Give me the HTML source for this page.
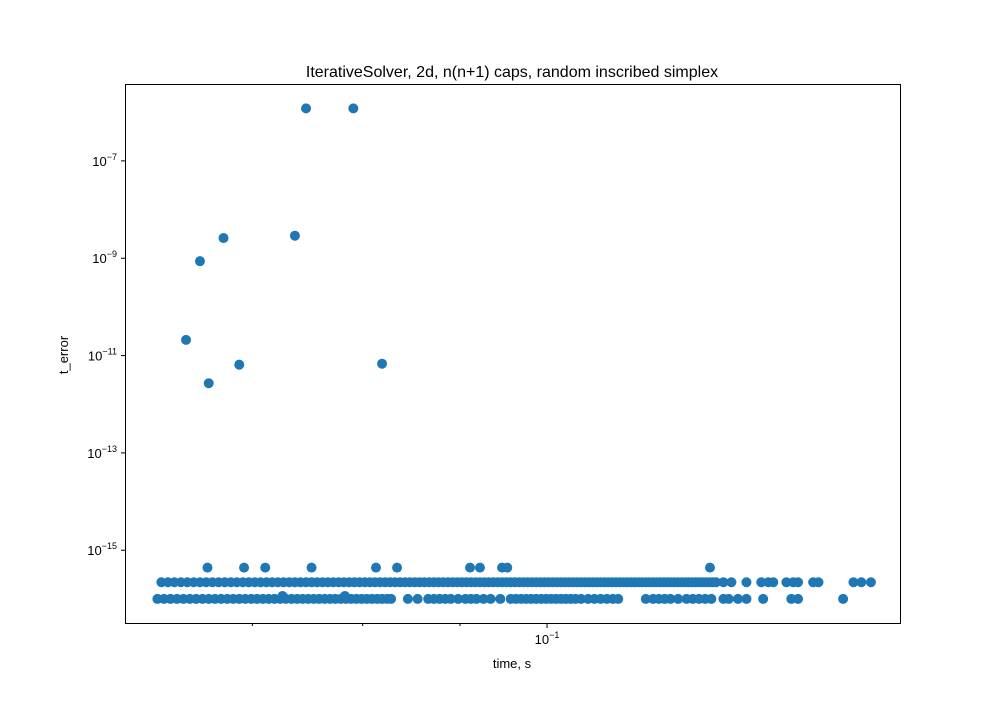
<!DOCTYPE html>
<html><head><meta charset="utf-8"><style>
body{margin:0;background:#fff;}
svg text{font-family:"Liberation Sans","DejaVu Sans",sans-serif;}
</style></head><body>
<svg id="chart" width="1000" height="700" xmlns="http://www.w3.org/2000/svg">
<rect width="1000" height="700" fill="#fff"/>
<text x="512" y="77" font-size="16" text-anchor="middle">IterativeSolver, 2d, n(n+1) caps, random inscribed simplex</text>
<text x="512" y="668" font-size="13" text-anchor="middle">time, s</text>
<text transform="translate(68,355) rotate(-90)" font-size="13" text-anchor="middle">t_error</text>
<g id="marks"></g>
<g id="axes"></g>
<rect x="125.5" y="84.5" width="775" height="539" fill="none" stroke="#000" stroke-width="1"/>
</svg>
<script>
const rowTopY = 2.2e-16;
const rowTopT = [0.0627,0.0632,0.0637,0.0642,0.0647,0.0652,0.0657,0.0662,0.0667,0.0672,0.0677,0.0682,0.0687,0.0692,0.0697,0.0702,0.0707,0.0712,0.0717,0.0722,0.0727,0.0732,0.0737,0.0742,0.0747,0.0752,0.0757,0.0762,0.0767,0.0772,0.0777,0.0782,0.0787,0.0792,0.0797,0.0802,0.0807,0.0812,0.0817,0.0822,0.0827,0.0832,0.0837,0.0842,0.0847,0.0852,0.0857,0.0862,0.0867,0.0872,0.0877,0.0882,0.0887,0.0892,0.0897,0.0902,0.0907,0.0912,0.0917,0.0922,0.0927,0.0932,0.0937,0.0942,0.0947,0.0952,0.0957,0.0962,0.0967,0.0972,0.0977,0.0982,0.0987,0.0992,0.0997,0.1002,0.1007,0.1012,0.1017,0.1022,0.1027,0.1032,0.1037,0.1042,0.1047,0.1052,0.1057,0.1062,0.1067,0.1072,0.1077,0.1082,0.1087,0.1092,0.1097,0.1102,0.1107,0.1112,0.1117,0.1122,0.1127,0.1132,0.1137,0.1142,0.1147,0.1152,0.1157,0.1162,0.1167,0.1172,0.1177,0.1182,0.1187,0.1192,0.1197,0.1202,0.1207,0.1212,0.1217,0.1222,0.1227,
0.1238,0.1250,0.1273,0.1296,0.1307,0.1315,0.1336,0.1347,0.1355,0.1380,0.1389,0.1449,0.1463,0.1480];
const rowBotY = 1.0e-16;
const rowBotT = [0.0624,0.0629,0.0634,0.0639,0.0644,0.0649,0.0654,0.0659,0.0664,0.0669,0.0674,0.0679,0.0684,0.0689,0.0694,0.0699,0.0704,0.0709,0.0714,0.0719,0.0724,0.0729,0.0734,0.0739,0.0744,0.0749,0.0754,0.0759,0.0764,0.0769,0.0774,0.0779,0.0784,0.0789,0.0794,0.0799,0.0804,0.0809,0.0814,0.0819,0.0824,0.0828,
0.0845,0.0855,0.0866,0.0872,0.0878,0.0884,0.0890,0.0898,0.0906,0.0912,0.0918,0.0926,0.0934,0.0945,0.0957,0.0963,0.0969,0.0975,0.0981,0.0987,0.0993,0.0999,0.1005,0.1011,0.1017,0.1023,0.1029,0.1035,0.1042,0.1051,0.1059,0.1067,0.1075,0.1083,0.1090,0.1127,0.1137,0.1145,0.1153,0.1161,0.1172,0.1184,0.1193,0.1202,0.1211,0.1220,0.1238,0.1246,0.1260,0.1273,0.1299,0.1344,0.1355,0.1431];
const midT = [0.0663,0.0693,0.0711,0.0752,0.0813,0.0834,0.0911,0.0922,0.0947,0.0953,0.1218];
const midY = 4.4e-16;
const outT = [0.0747,0.0791,0.0676,0.0737,0.0657,0.0646,0.0664,0.0689,0.0819,0.0726,0.0783];
const outY = [1.2e-6,1.2e-6,2.6e-9,2.9e-9,8.7e-10,2.1e-11,2.7e-12,6.5e-12,6.8e-12,1.15e-16,1.15e-16];
const yTicks = [1e-7,1e-9,1e-11,1e-13,1e-15];
const yTickLabels = ["−7","−9","−11","−13","−15"];
const xMajor = [0.1];
const xMinor = [0.07,0.08,0.09];

const X0=125,X1=900,Y0=84,Y1=623;
const xLo=Math.log10(0.0600), xHi=Math.log10(0.1533);
const yLo=Math.log10(3.2e-17), yHi=Math.log10(3.8e-6);
function sx(t){return X0+(Math.log10(t)-xLo)/(xHi-xLo)*(X1-X0);}
function sy(v){return Y1-(Math.log10(v)-yLo)/(yHi-yLo)*(Y1-Y0);}
const NS="http://www.w3.org/2000/svg";
const marks=document.getElementById('marks'), axes=document.getElementById('axes');
function dot(t,v){
  const c=document.createElementNS(NS,'circle');
  c.setAttribute('cx',sx(t));c.setAttribute('cy',sy(v));c.setAttribute('r',5);c.setAttribute('fill','#1f77b4');
  
  
  marks.appendChild(c);
}
rowBotT.forEach(t=>dot(t,rowBotY));
rowTopT.forEach(t=>dot(t,rowTopY));
midT.forEach(t=>dot(t,midY));
outT.forEach((t,i)=>dot(t,outY[i]));
function line(x1,y1,x2,y2,name){
  const l=document.createElementNS(NS,'line');
  l.setAttribute('x1',x1);l.setAttribute('y1',y1);l.setAttribute('x2',x2);l.setAttribute('y2',y2);l.setAttribute('stroke','#000');
  
  
  axes.appendChild(l);
}
yTicks.forEach((v,i)=>{
  const y=sy(v);
  line(121,y,125,y,'y-tick');
  const tx=document.createElementNS(NS,'text');
  tx.setAttribute('x',117);tx.setAttribute('y',y+5);tx.setAttribute('text-anchor','end');tx.setAttribute('font-size','13');
  tx.innerHTML='10<tspan dy="-6" font-size="9">'+yTickLabels[i]+'</tspan>';
  
  
  axes.appendChild(tx);
});
xMajor.forEach(t=>{
  const x=sx(t);
  line(x,623,x,628,'x-tick');
  const tx=document.createElementNS(NS,'text');
  tx.setAttribute('x',x);tx.setAttribute('y',644);tx.setAttribute('text-anchor','middle');tx.setAttribute('font-size','13');
  tx.innerHTML='10<tspan dy="-6" font-size="9">−1</tspan>';
  
  
  axes.appendChild(tx);
});
xMinor.forEach(t=>{const x=sx(t);line(x,623,x,626,'x-minor-tick');});
</script>
</body></html>
